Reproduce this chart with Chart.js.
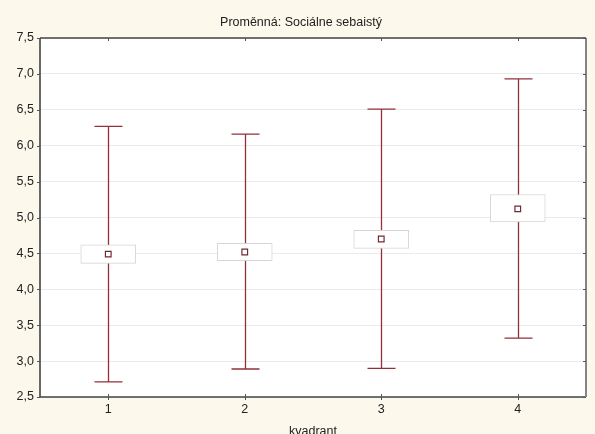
<!DOCTYPE html>
<html>
<head>
<meta charset="utf-8">
<script src="https://cdn.jsdelivr.net/npm/chart.js@4.4.1/dist/chart.umd.min.js"></script>
<style>
  html, body { margin: 0; padding: 0; background: #fcf8eb; }
  #wrap { width: 595px; height: 434px; }
</style>
</head>
<body>
<div id="wrap"><canvas id="chart" width="595" height="434"></canvas></div>
<script>
// quadrant groups and their summary values
const categories = ["1", "2", "3", "4"];
const means = [4.49, 4.52, 4.70, 5.12];
const boxLow = [4.36, 4.40, 4.57, 4.94];
const boxHigh = [4.62, 4.64, 4.82, 5.32];
const whiskerLow = [2.71, 2.89, 2.90, 3.32];
const whiskerHigh = [6.27, 6.16, 6.51, 6.93];
const yTicks = [2.5, 3.0, 3.5, 4.0, 4.5, 5.0, 5.5, 6.0, 6.5, 7.0, 7.5];

const titleText = "Proměnná: Sociálne sebaistý";
const whiskerColor = "#93303a";
const fontFamily = "'Liberation Sans', Arial, sans-serif";

// white plot background, frame, whiskers and the heading
const plotDecor = {
  id: "plotDecor",
  beforeDraw(chart) {
    const { ctx, chartArea: a } = chart;
    ctx.save();
    ctx.fillStyle = "#ffffff";
    ctx.fillRect(a.left, a.top, a.right - a.left, a.bottom - a.top);
    ctx.restore();
  },
  beforeDatasetsDraw(chart) {
    const { ctx, scales: { x, y } } = chart;
    ctx.save();
    // whiskers with caps
    ctx.strokeStyle = whiskerColor;
    ctx.lineWidth = 1.3;
    categories.forEach((c, i) => {
      const px = Math.round(x.getPixelForValue(i)) + 0.5;
      const lo = y.getPixelForValue(whiskerLow[i]);
      const hi = y.getPixelForValue(whiskerHigh[i]);
      ctx.beginPath();
      ctx.moveTo(px, lo);
      ctx.lineTo(px, hi);
      ctx.moveTo(px - 14, lo);
      ctx.lineTo(px + 14, lo);
      ctx.moveTo(px - 14, hi);
      ctx.lineTo(px + 14, hi);
      ctx.stroke();
    });
    ctx.restore();
  },
  afterDraw(chart) {
    const { ctx, chartArea: a, scales: { x, y } } = chart;
    ctx.save();
    // frame
    ctx.lineWidth = 1.6;
    ctx.strokeStyle = "#444";
    ctx.beginPath();
    ctx.moveTo(a.left, a.top);
    ctx.lineTo(a.left, a.bottom);
    ctx.lineTo(a.right, a.bottom);
    ctx.moveTo(a.left, a.top);
    ctx.lineTo(a.right, a.top);
    ctx.stroke();
    ctx.lineWidth = 2;
    ctx.strokeStyle = "#858585";
    ctx.beginPath();
    ctx.moveTo(a.right, a.top);
    ctx.lineTo(a.right, a.bottom);
    ctx.stroke();
    // small tick marks
    ctx.lineWidth = 1;
    ctx.strokeStyle = "#555";
    ctx.beginPath();
    categories.forEach((c, i) => {
      const px = Math.round(x.getPixelForValue(i)) + 0.5;
      ctx.moveTo(px, a.top);
      ctx.lineTo(px, a.top + 3);
      ctx.moveTo(px, a.bottom - 3);
      ctx.lineTo(px, a.bottom + 3);
    });
    yTicks.forEach(v => {
      const py = Math.round(y.getPixelForValue(v)) + 0.5;
      ctx.moveTo(a.right - 3, py);
      ctx.lineTo(a.right, py);
      ctx.moveTo(a.left - 3, py);
      ctx.lineTo(a.left, py);
    });
    ctx.stroke();
    // heading
    ctx.fillStyle = "#222";
    ctx.font = "12.5px " + fontFamily;
    ctx.textAlign = "center";
    ctx.textBaseline = "middle";
    ctx.fillText(titleText, (a.left + a.right) / 2 - 12, 23);
    ctx.restore();
  }
};

document.addEventListener("DOMContentLoaded", () => {
  const ctx = document.getElementById("chart").getContext("2d");

  new Chart(ctx, {
    data: {
      labels: categories,
      datasets: [
        {
          type: "line",
          label: "Průměr",
          data: means,
          showLine: false,
          pointStyle: "rect",
          pointRadius: 4,
          pointBorderWidth: 1.2,
          pointBackgroundColor: "#ffffff",
          pointBorderColor: "#6e2a30",
          order: 0,
        },
        {
          type: "bar",
          label: "Střední chyba",
          data: categories.map((c, i) => [boxLow[i], boxHigh[i]]),
          backgroundColor: "#ffffff",
          borderColor: "#d6d6d6",
          borderWidth: 1,
          borderSkipped: false,
          barThickness: 55,
          order: 1,
        },
      ],
    },
    options: {
      responsive: false,
      animation: false,
      layout: { padding: { top: 38, right: 9, left: 0, bottom: 0 } },
      plugins: {
        legend: { display: false },
        tooltip: { enabled: false },
        title: { display: false },
      },
      scales: {
        x: {
          offset: true,
          grid: { display: false, drawTicks: false },
          border: { display: false },
          ticks: {
            color: "#222",
            padding: 5,
            font: { family: fontFamily, size: 12.5 },
          },
          title: {
            display: true,
            text: "kvadrant",
            color: "#222",
            padding: { top: 0, bottom: -5 },
            font: { family: fontFamily, size: 12.5 },
          },
          afterFit(scale) { scale.height = 37; },
        },
        y: {
          min: 2.5,
          max: 7.5,
          afterBuildTicks(scale) { scale.ticks = yTicks.map(v => ({ value: v })); },
          grid: { color: "#ebebeb", lineWidth: 1, drawTicks: false },
          border: { display: false },
          ticks: {
            color: "#222",
            padding: 6,
            font: { family: fontFamily, size: 12.5 },
            callback: v => v.toFixed(1).replace(".", ","),
          },
          afterFit(scale) { scale.width = 40; },
        },
      },
    },
    plugins: [plotDecor],
  });
});
</script>
</body>
</html>
